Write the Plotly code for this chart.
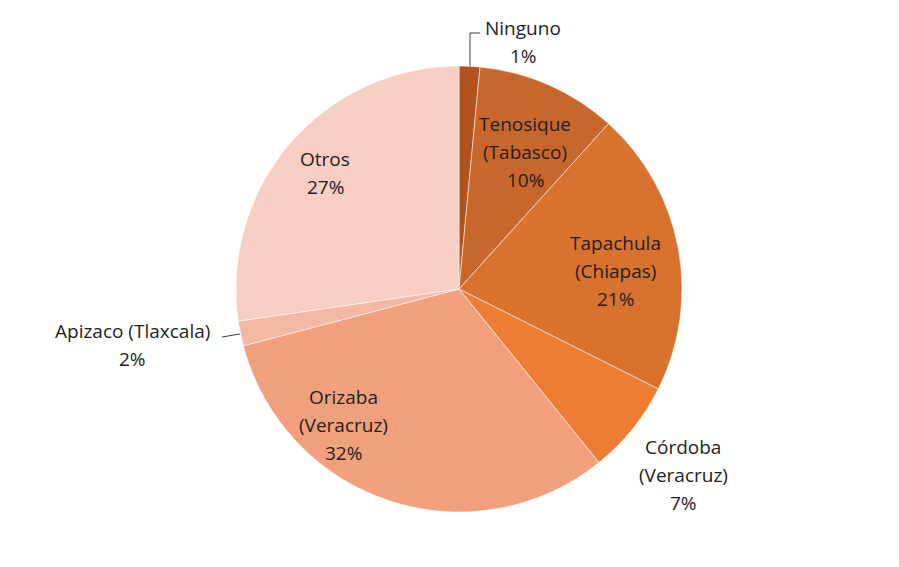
import plotly.graph_objects as go

labels = ["Ninguno", "Tenosique (Tabasco)", "Tapachula (Chiapas)", "Córdoba (Veracruz)",
          "Orizaba (Veracruz)", "Apizaco (Tlaxcala)", "Otros"]
values = [1.5, 10.2, 20.7, 6.8, 31.7, 1.8, 27.3]
label_lines = [["Ninguno", "1%"], ["Tenosique", "(Tabasco)", "10%"], ["Tapachula", "(Chiapas)", "21%"],
               ["Córdoba", "(Veracruz)", "7%"], ["Orizaba", "(Veracruz)", "32%"],
               ["Apizaco (Tlaxcala)", "2%"], ["Otros", "27%"]]
colors = ["#B0531E", "#C8672C", "#D8732F", "#ED7D32", "#F0A07C", "#F3B8A2", "#F7CFC2"]

W, H = 899, 567
OFF = 8  # page offset of the plot div
cx, cy, r = 459 - OFF, 289 - OFF, 223

def px(x):
    return (x - OFF) / W

def py(y):
    return 1 - (y - OFF) / H

fig = go.Figure(go.Pie(
    labels=labels, values=values, sort=False, direction="clockwise", rotation=0,
    marker=dict(colors=colors, line=dict(color="rgba(255,255,255,0.55)", width=1)),
    textinfo="none", hoverinfo="label+percent", showlegend=False,
    domain=dict(x=[(cx - r) / W, (cx + r) / W], y=[(H - cy - r) / H, (H - cy + r) / H]),
))

label_pos = [(523, 28), (525, 124), (615, 243), (683, 447), (343, 397), (133, 331), (325, 159)]
line_gap = 28
annotations = []
for lines, (x, y) in zip(label_lines, label_pos):
    for i, t in enumerate(lines):
        annotations.append(dict(
            x=px(x), y=py(y + i * line_gap), xref="paper", yref="paper",
            text=t, showarrow=False, xanchor="center", yanchor="middle",
            font=dict(family="Open Sans", size=19, color="#1e1e1e")))

shapes = [
    dict(type="path", xref="paper", yref="paper",
         path=f"M {px(470)} {py(66)} L {px(470)} {py(33)} L {px(480)} {py(33)}",
         line=dict(color="#404040", width=1)),
    dict(type="line", xref="paper", yref="paper",
         x0=px(222), y0=py(337), x1=px(240), y1=py(334),
         line=dict(color="#404040", width=1)),
]

fig.update_layout(
    width=W, height=H, margin=dict(l=0, r=0, t=0, b=0),
    paper_bgcolor="white", plot_bgcolor="white",
    annotations=annotations, shapes=shapes,
)
fig.write_html("out.html")
